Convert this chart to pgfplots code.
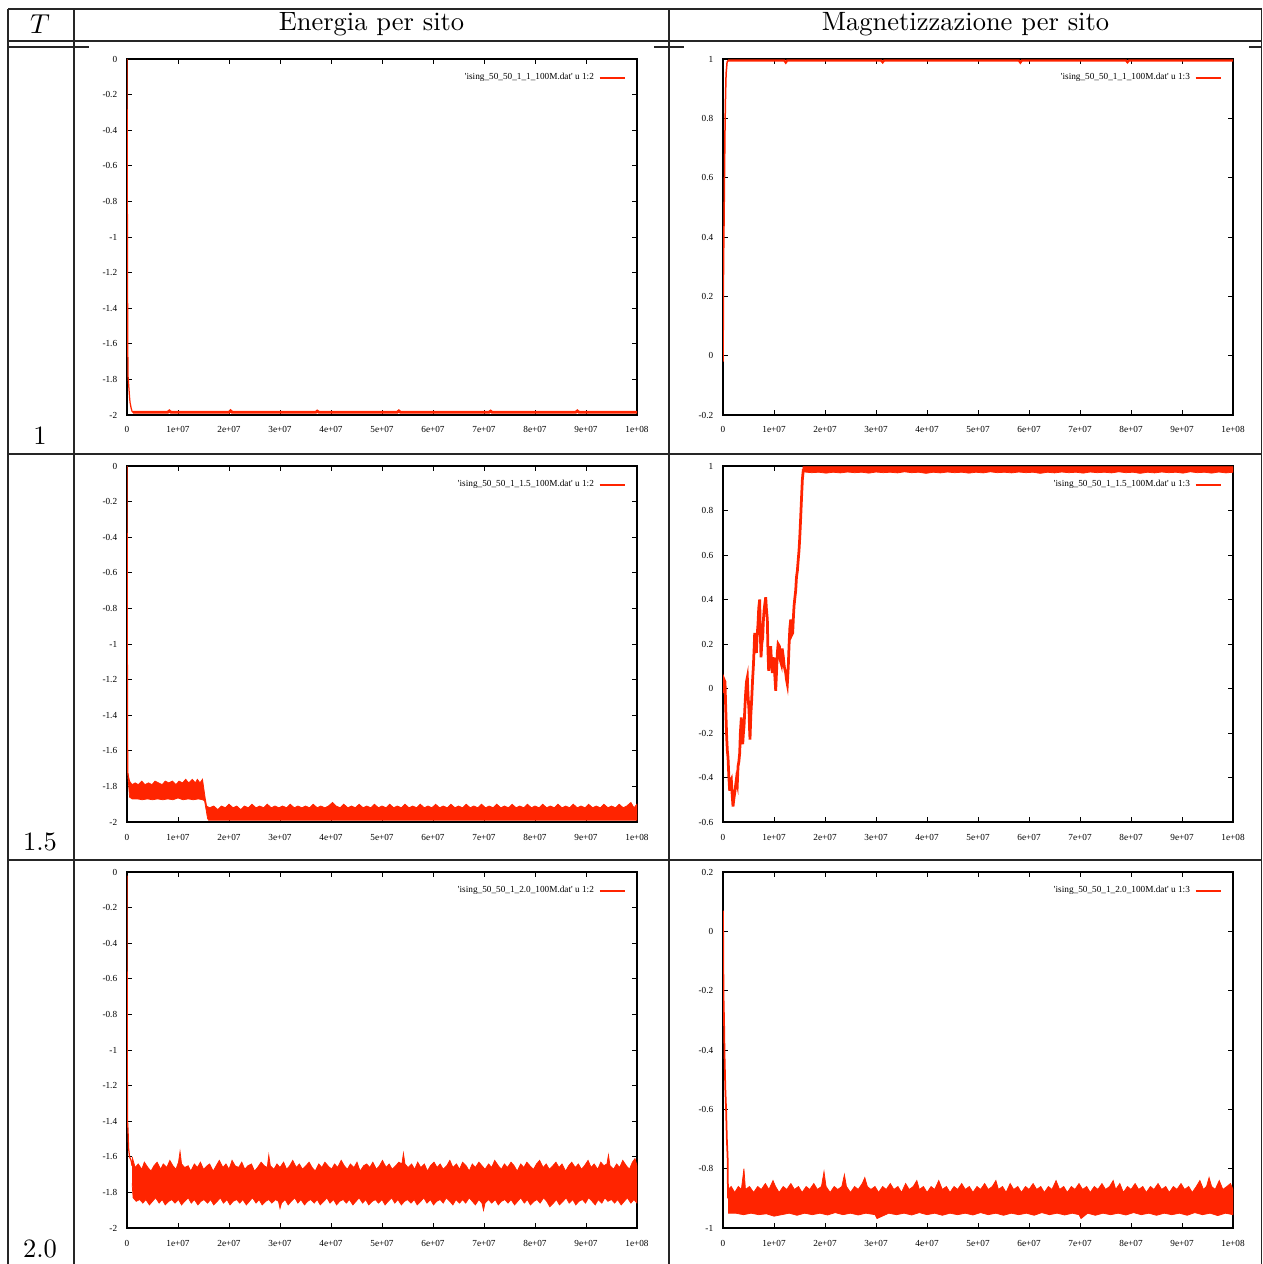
\documentclass[border=0pt]{standalone}
\usepackage{pgfplots}
\pgfplotsset{compat=1.18}
\usepackage{fontspec}
\newfontfamily\gpfont{Liberation Serif}
\definecolor{gpred}{RGB}{255,36,0}
\newcommand{\gpsize}{\gpfont\fontsize{3.7}{4.2}\selectfont}
\pgfplotsset{
 gp/.style={
  scale only axis, width=204pt, height=142.4pt, anchor=south west,
  xmin=0, xmax=100, xtick={0,10,...,100},
  xticklabels={0,1e+07,2e+07,3e+07,4e+07,5e+07,6e+07,7e+07,8e+07,9e+07,1e+08},
  axis line style={line width=0.6pt, black},
  every tick/.style={black, line width=0.35pt},
  major tick length=2pt, tick align=inside,
  tick label style={font=\gpsize},
  xticklabel style={yshift=-1.2pt},
  yticklabel style={xshift=-0.4pt},
  legend style={draw=none, fill=none, at={(1,1)}, anchor=north east,
    xshift=-4.5pt, yshift=-3.4pt, font=\gpsize, inner sep=0pt,
    /tikz/every even column/.append style={column sep=1.5pt}},
  legend plot pos=right, legend cell align=right,
 },
 gpleg/.style={legend image code/.code={\draw[color=gpred,line width=0.55pt] (0pt,0pt) -- (10pt,0pt);}},
}
\begin{document}
\begin{tikzpicture}
\begin{scope}[x=0.4pt,y=-0.4pt]
\path[use as bounding box] (0,0) rectangle (1262,1264);
\begin{scope}[line width=0.5pt, black!85]
\draw (8,9) -- (1262,9);
\draw (8,41) -- (1262,41);
\draw (8,47) -- (89,47);
\draw (654,47) -- (684,47);
\draw (1249,47) -- (1262,47);
\draw (8,454) -- (1262,454);
\draw (8,860) -- (1262,860);
\draw (8,9) -- (8,1264);
\draw (74,9) -- (74,1264);
\draw (669,9) -- (669,1264);
\draw (1261.5,9) -- (1261.5,1264);
\end{scope}
\node[font=\fontsize{10.6}{12}\selectfont] at (40,24) {$T$};
\node[font=\fontsize{10.6}{12}\selectfont] at (371.5,24) {Energia per sito};
\node[font=\fontsize{10.6}{12}\selectfont] at (965.5,24) {Magnetizzazione per sito};
\node[font=\fontsize{10.6}{12}\selectfont] at (40,436) {1};
\node[font=\fontsize{10.6}{12}\selectfont] at (40,842) {1.5};
\node[font=\fontsize{10.6}{12}\selectfont] at (40,1249) {2.0};
\end{scope}

% ---------- T = 1, energy ----------
\begin{axis}[gp, at={(50.8pt,-166pt)}, ymin=-2, ymax=0,
  ytick={-2,-1.8,...,0.01}, yticklabels={-2,-1.8,-1.6,-1.4,-1.2,-1,-0.8,-0.6,-0.4,-0.2,0}]
\addplot[gpred, line width=0.5pt, gpleg] coordinates {(0,0) (0.05,-0.6) (0.1,-1.2) (0.15,-1.6) (0.2,-1.78) (0.3,-1.82) (0.4,-1.86) (0.5,-1.9) (0.6,-1.93) (0.8,-1.96) (1.0,-1.98) (1.2,-1.985)};
\addlegendentry{\textquotesingle ising\_50\_50\_1\_1\_100M.dat\textquotesingle{} u 1:2}
\addplot[gpred, line width=1.1pt, forget plot] coordinates {(1.2,-1.985) (8,-1.984) (8.3,-1.977) (8.6,-1.984) (20,-1.984) (20.3,-1.976) (20.6,-1.984) (37,-1.985) (37.3,-1.978) (37.6,-1.984) (53,-1.984) (53.3,-1.977) (53.6,-1.984) (71,-1.984) (71.3,-1.978) (71.6,-1.985) (88,-1.984) (88.3,-1.977) (88.6,-1.984) (100,-1.984)};
\end{axis}

% ---------- T = 1, magnetization ----------
\begin{axis}[gp, at={(289.2pt,-166pt)}, ymin=-0.2, ymax=1,
  ytick={-0.2,0,...,1.01}, yticklabels={-0.2,0,0.2,0.4,0.6,0.8,1}]
\addplot[gpred, line width=0.6pt, gpleg] coordinates {(0,-0.02) (0.05,0.1) (0.1,0.3) (0.2,0.45) (0.3,0.62) (0.4,0.78) (0.5,0.88) (0.6,0.95) (0.8,0.99) (1,0.995)};
\addlegendentry{\textquotesingle ising\_50\_50\_1\_1\_100M.dat\textquotesingle{} u 1:3}
\addplot[gpred, line width=0.9pt, forget plot] coordinates {(1,0.995) (12,0.995) (12.3,0.988) (12.6,0.995) (31,0.995) (31.3,0.989) (31.6,0.995) (58,0.995) (58.3,0.988) (58.6,0.995) (79,0.995) (79.3,0.989) (79.6,0.995) (100,0.995)};
\end{axis}

% ---------- T = 1.5, energy ----------
\begin{axis}[gp, at={(50.8pt,-328.8pt)}, ymin=-2, ymax=0,
  ytick={-2,-1.8,...,0.01}, yticklabels={-2,-1.8,-1.6,-1.4,-1.2,-1,-0.8,-0.6,-0.4,-0.2,0}]
\addplot[gpred, line width=0.5pt, gpleg] coordinates {(0,0) (0.05,-0.8) (0.1,-1.5) (0.15,-1.72) (0.3,-1.76)};
\addlegendentry{\textquotesingle ising\_50\_50\_1\_1.5\_100M.dat\textquotesingle{} u 1:2}
\addplot[fill=gpred, draw=gpred, line width=0.3pt, forget plot] coordinates {
(0.2,-1.73)(0.5,-1.77)(1,-1.79)(1.6,-1.78)(2.2,-1.79)(2.9,-1.77)(3.5,-1.79)(4.2,-1.78)(4.9,-1.79)(5.5,-1.77)(6.2,-1.78)(6.9,-1.79)(7.5,-1.77)(8.2,-1.78)(8.9,-1.77)(9.6,-1.79)(10.2,-1.77)(10.9,-1.78)(11.5,-1.76)(12.1,-1.78)(12.8,-1.76)(13.4,-1.78)(13.8,-1.76)(14.3,-1.78)(14.8,-1.76)(15.0,-1.80)(15.3,-1.86)(15.6,-1.91)
(16.2,-1.92)(17,-1.91)(17.8,-1.93)(18.5,-1.91)(19.3,-1.92)(20,-1.90)(20.8,-1.92)(21.5,-1.91)(22.3,-1.93)(23,-1.91)(23.8,-1.92)(24.5,-1.90)(25.3,-1.92)(26,-1.91)(26.8,-1.92)(27.5,-1.90)(28.3,-1.92)(29,-1.91)(29.8,-1.92)(30.5,-1.91)(31.3,-1.92)(32,-1.90)(32.8,-1.92)(33.5,-1.91)(34.3,-1.92)(35,-1.91)(35.8,-1.92)(36.5,-1.90)(37.3,-1.92)(38,-1.91)(38.8,-1.92)(39.5,-1.91)(40.3,-1.89)(41,-1.91)(41.8,-1.92)(42.5,-1.90)(43.3,-1.92)(44,-1.91)(44.8,-1.92)(45.5,-1.90)(46.3,-1.92)(47,-1.91)(47.8,-1.92)(48.5,-1.90)(49.3,-1.92)(50,-1.91)(50.8,-1.92)(51.5,-1.90)(52.3,-1.92)(53,-1.91)(53.8,-1.92)(54.5,-1.90)(55.3,-1.92)(56,-1.91)(56.8,-1.92)(57.5,-1.90)(58.3,-1.92)(59,-1.91)(59.8,-1.92)(60.5,-1.90)(61.3,-1.92)(62,-1.91)(62.8,-1.92)(63.5,-1.90)(64.3,-1.92)(65,-1.91)(65.8,-1.92)(66.5,-1.90)(67.3,-1.92)(68,-1.91)(68.8,-1.92)(69.5,-1.90)(70.3,-1.92)(71,-1.91)(71.8,-1.92)(72.5,-1.90)(73.3,-1.92)(74,-1.91)(74.8,-1.92)(75.5,-1.90)(76.3,-1.92)(77,-1.91)(77.8,-1.92)(78.5,-1.90)(79.3,-1.92)(80,-1.91)(80.8,-1.92)(81.5,-1.90)(82.3,-1.92)(83,-1.91)(83.8,-1.92)(84.5,-1.90)(85.3,-1.92)(86,-1.91)(86.8,-1.92)(87.5,-1.90)(88.3,-1.92)(89,-1.91)(89.8,-1.92)(90.5,-1.90)(91.3,-1.92)(92,-1.91)(92.8,-1.92)(93.5,-1.90)(94.3,-1.92)(95,-1.91)(95.8,-1.92)(96.5,-1.90)(97.3,-1.92)(98,-1.91)(98.8,-1.89)(99.4,-1.92)(100,-1.90)
(100,-1.99)(16,-1.99)(15.8,-1.98)(15.5,-1.93)(15.2,-1.88)
(14.8,-1.875)(14,-1.87)(13,-1.875)(12,-1.87)(11,-1.875)(10,-1.865)(9,-1.875)(8,-1.87)(7,-1.875)(6,-1.87)(5,-1.875)(4,-1.87)(3,-1.875)(2,-1.87)(1,-1.87)(0.5,-1.86)(0.2,-1.75)};
\end{axis}

% ---------- T = 1.5, magnetization ----------
\begin{axis}[gp, at={(289.2pt,-328.8pt)}, ymin=-0.6, ymax=1,
  ytick={-0.6,-0.4,...,1.01}, yticklabels={-0.6,-0.4,-0.2,0,0.2,0.4,0.6,0.8,1}]
\addplot[gpred, line width=1.1pt, gpleg] coordinates {
(0,-0.02)(0.2,0.04)(0.39,0.03)(0.52,-0.08)(0.62,-0.15)(0.72,-0.22)(0.85,-0.28)(0.98,-0.31)(1.15,-0.40)(1.31,-0.46)(1.45,-0.42)(1.63,-0.41)(1.8,-0.48)(1.96,-0.53)(2.1,-0.50)(2.29,-0.47)(2.45,-0.44)(2.61,-0.41)(2.8,-0.43)(2.94,-0.35)(3.1,-0.33)(3.27,-0.29)(3.4,-0.20)(3.59,-0.13)(3.7,-0.22)(3.86,-0.25)(4.0,-0.20)(4.12,-0.17)(4.3,-0.08)(4.44,-0.02)(4.6,0.03)(4.77,0.05)(4.9,-0.03)(5.10,-0.10)(5.2,-0.18)(5.29,-0.23)(5.45,-0.12)(5.62,-0.05)(5.8,0.04)(5.95,0.10)(6.1,0.18)(6.21,0.25)(6.35,0.20)(6.54,0.16)(6.7,0.24)(6.86,0.29)(7.0,0.36)(7.19,0.40)(7.3,0.26)(7.45,0.14)(7.6,0.20)(7.78,0.23)(7.9,0.30)(8.04,0.35)(8.2,0.38)(8.37,0.41)(8.5,0.36)(8.69,0.31)(8.8,0.18)(8.95,0.08)(9.1,0.12)(9.35,0.19)(9.5,0.12)(9.67,0.07)(9.8,0.10)(10.0,0.14)(10.15,0.06)(10.33,-0.01)(10.5,0.08)(10.65,0.16)(10.8,0.20)(11.05,0.19)(11.2,0.13)(11.44,0.11)(11.6,0.18)(11.83,0.14)(12.0,0.10)(12.29,0.07)(12.45,0.04)(12.61,0.02)(12.8,0.10)(12.94,0.19)(13.1,0.27)(13.27,0.31)(13.45,0.24)(13.66,0.25)(13.8,0.32)(13.92,0.37)(14.1,0.41)(14.25,0.44)(14.4,0.50)(14.58,0.53)(14.75,0.58)(14.9,0.62)(15.05,0.68)(15.23,0.77)(15.4,0.86)(15.56,0.94)(15.75,0.985)};
\addlegendentry{\textquotesingle ising\_50\_50\_1\_1.5\_100M.dat\textquotesingle{} u 1:3}
\addplot[fill=gpred, draw=gpred, line width=0.3pt, forget plot] coordinates {
(15.6,0.975)(15.7,0.997)(100,0.997)
(100,0.972)(98.6,0.969)(97.2,0.973)(95.8,0.968)(94.4,0.972)(93,0.970)(91.6,0.974)(90.2,0.968)(88.8,0.972)(87.4,0.970)(86,0.973)(84.6,0.969)(83.2,0.972)(81.8,0.967)(80.4,0.972)(79,0.970)(77.6,0.974)(76.2,0.969)(74.8,0.972)(73.4,0.970)(72,0.973)(70.6,0.968)(69.2,0.972)(67.8,0.970)(66.4,0.973)(65,0.969)(63.6,0.972)(62.2,0.967)(60.8,0.972)(59.4,0.970)(58,0.973)(56.6,0.969)(55.2,0.972)(53.8,0.970)(52.4,0.974)(51,0.969)(49.6,0.972)(48.2,0.968)(46.8,0.972)(45.4,0.970)(44,0.973)(42.6,0.969)(41.2,0.972)(39.8,0.967)(38.4,0.972)(37,0.970)(35.6,0.974)(34.2,0.969)(32.8,0.972)(31.4,0.970)(30,0.973)(28.6,0.968)(27.2,0.972)(25.8,0.970)(24.4,0.973)(23,0.969)(21.6,0.972)(20.2,0.968)(18.8,0.972)(17.4,0.970)(16,0.973)(15.7,0.975)};
\end{axis}

% ---------- T = 2.0, energy ----------
\begin{axis}[gp, at={(50.8pt,-491.2pt)}, ymin=-2, ymax=0,
  ytick={-2,-1.8,...,0.01}, yticklabels={-2,-1.8,-1.6,-1.4,-1.2,-1,-0.8,-0.6,-0.4,-0.2,0}]
\addplot[gpred, line width=0.5pt, gpleg] coordinates {(0,-0.02) (0.02,-0.5) (0.05,-1.0) (0.1,-1.4) (0.2,-1.45) (0.3,-1.55) (0.5,-1.6) (0.8,-1.62) (1,-1.65)};
\addlegendentry{\textquotesingle ising\_50\_50\_1\_2.0\_100M.dat\textquotesingle{} u 1:2}
\addplot[fill=gpred, draw=gpred, line width=0.3pt, forget plot] coordinates {
(1,-1.60)(1.6,-1.66)(2.2,-1.64)(2.9,-1.67)(3.4,-1.63)(4.1,-1.66)(4.7,-1.68)(5.3,-1.65)(5.9,-1.63)(6.6,-1.67)(7.1,-1.64)(7.8,-1.66)(8.4,-1.62)(9.0,-1.65)(9.6,-1.67)(10.1,-1.63)(10.4,-1.57)(10.7,-1.64)(11.3,-1.66)(12.0,-1.65)(12.5,-1.68)(13.2,-1.64)(13.8,-1.66)(14.4,-1.63)(15.0,-1.67)(15.7,-1.65)(16.2,-1.64)(16.9,-1.68)(17.5,-1.65)(18.1,-1.62)(18.8,-1.66)(19.4,-1.64)(20.0,-1.67)(20.6,-1.62)(21.2,-1.65)(21.9,-1.66)(22.5,-1.63)(23.1,-1.67)(23.7,-1.65)(24.4,-1.64)(25.0,-1.68)(25.6,-1.66)(26.3,-1.63)(26.9,-1.65)(27.5,-1.66)(27.8,-1.59)(28.1,-1.65)(28.8,-1.67)(29.4,-1.64)(30.0,-1.66)(30.7,-1.63)(31.3,-1.67)(31.9,-1.65)(32.5,-1.62)(33.2,-1.66)(33.8,-1.64)(34.4,-1.67)(35.1,-1.65)(35.7,-1.63)(36.3,-1.66)(36.9,-1.68)(37.6,-1.64)(38.2,-1.66)(38.8,-1.63)(39.4,-1.65)(40.1,-1.67)(40.7,-1.64)(41.3,-1.66)(42.0,-1.62)(42.6,-1.65)(43.2,-1.67)(43.8,-1.64)(44.5,-1.66)(45.1,-1.63)(45.7,-1.68)(46.4,-1.65)(47.0,-1.64)(47.6,-1.66)(48.2,-1.63)(48.9,-1.67)(49.5,-1.65)(50.1,-1.62)(50.8,-1.66)(51.4,-1.64)(52.0,-1.67)(52.7,-1.65)(53.3,-1.63)(53.9,-1.64)(54.2,-1.58)(54.5,-1.64)(55.1,-1.66)(55.8,-1.64)(56.4,-1.67)(57.0,-1.63)(57.6,-1.66)(58.3,-1.64)(58.9,-1.68)(59.5,-1.65)(60.2,-1.63)(60.8,-1.66)(61.4,-1.64)(62.0,-1.67)(62.7,-1.65)(63.3,-1.62)(63.9,-1.66)(64.6,-1.64)(65.2,-1.67)(65.8,-1.63)(66.5,-1.65)(67.1,-1.68)(67.7,-1.64)(68.3,-1.66)(69.0,-1.63)(69.6,-1.65)(70.2,-1.67)(70.9,-1.64)(71.5,-1.66)(72.1,-1.62)(72.8,-1.65)(73.4,-1.67)(74.0,-1.64)(74.6,-1.66)(75.3,-1.63)(75.9,-1.65)(76.5,-1.68)(77.2,-1.64)(77.8,-1.66)(78.4,-1.63)(79.0,-1.65)(79.7,-1.67)(80.3,-1.64)(80.9,-1.62)(81.6,-1.66)(82.2,-1.64)(82.8,-1.67)(83.5,-1.65)(84.1,-1.63)(84.7,-1.66)(85.3,-1.64)(86.0,-1.68)(86.6,-1.65)(87.2,-1.63)(87.9,-1.66)(88.5,-1.64)(89.1,-1.67)(89.7,-1.65)(90.4,-1.62)(91.0,-1.66)(91.6,-1.64)(92.3,-1.67)(92.9,-1.63)(93.5,-1.65)(94.1,-1.64)(94.4,-1.59)(94.7,-1.65)(95.4,-1.67)(96.0,-1.64)(96.6,-1.66)(97.2,-1.62)(97.9,-1.65)(98.5,-1.67)(99.1,-1.63)(99.6,-1.61)(100,-1.65)
(100,-1.86)(99.4,-1.84)(98.8,-1.86)(98.1,-1.83)(97.5,-1.85)(96.9,-1.87)(96.2,-1.84)(95.6,-1.86)(95.0,-1.84)(94.3,-1.85)(93.7,-1.83)(93.1,-1.86)(92.4,-1.84)(91.8,-1.87)(91.2,-1.85)(90.5,-1.83)(89.9,-1.86)(89.3,-1.84)(88.6,-1.85)(88.0,-1.87)(87.4,-1.84)(86.7,-1.86)(86.1,-1.83)(85.5,-1.85)(84.8,-1.87)(84.2,-1.84)(83.6,-1.86)(82.9,-1.88)(82.3,-1.85)(81.7,-1.83)(81.0,-1.86)(80.4,-1.84)(79.8,-1.85)(79.1,-1.87)(78.5,-1.84)(77.9,-1.86)(77.2,-1.83)(76.6,-1.85)(76.0,-1.87)(75.3,-1.84)(74.7,-1.86)(74.1,-1.84)(73.4,-1.85)(72.8,-1.87)(72.2,-1.84)(71.5,-1.86)(70.9,-1.84)(70.2,-1.86)(69.9,-1.90)(69.6,-1.86)(69.0,-1.84)(68.3,-1.87)(67.7,-1.85)(67.1,-1.83)(66.4,-1.86)(65.8,-1.84)(65.2,-1.86)(64.5,-1.84)(63.9,-1.87)(63.3,-1.85)(62.6,-1.83)(62.0,-1.86)(61.4,-1.84)(60.7,-1.85)(60.1,-1.87)(59.5,-1.84)(58.8,-1.86)(58.2,-1.83)(57.6,-1.85)(56.9,-1.87)(56.3,-1.84)(55.7,-1.86)(55.0,-1.84)(54.4,-1.85)(53.8,-1.87)(53.1,-1.84)(52.5,-1.86)(51.9,-1.83)(51.2,-1.85)(50.6,-1.87)(50.0,-1.84)(49.3,-1.86)(48.7,-1.84)(48.1,-1.85)(47.4,-1.87)(46.8,-1.84)(46.2,-1.86)(45.5,-1.83)(44.9,-1.85)(44.3,-1.87)(43.6,-1.84)(43.0,-1.86)(42.4,-1.84)(41.7,-1.85)(41.1,-1.87)(40.5,-1.84)(39.8,-1.86)(39.2,-1.83)(38.6,-1.85)(37.9,-1.87)(37.3,-1.84)(36.7,-1.86)(36.0,-1.84)(35.4,-1.85)(34.8,-1.87)(34.1,-1.84)(33.5,-1.86)(32.9,-1.83)(32.2,-1.85)(31.6,-1.87)(31.0,-1.84)(30.3,-1.86)(30.0,-1.89)(29.7,-1.85)(29.1,-1.84)(28.4,-1.86)(27.8,-1.84)(27.2,-1.85)(26.5,-1.87)(25.9,-1.84)(25.3,-1.86)(24.6,-1.83)(24.0,-1.85)(23.4,-1.87)(22.7,-1.84)(22.1,-1.86)(21.5,-1.84)(20.8,-1.85)(20.2,-1.87)(19.6,-1.84)(18.9,-1.86)(18.3,-1.83)(17.7,-1.85)(17.0,-1.87)(16.4,-1.84)(15.8,-1.86)(15.1,-1.84)(14.5,-1.85)(13.9,-1.87)(13.2,-1.84)(12.6,-1.86)(12.0,-1.83)(11.3,-1.85)(10.7,-1.87)(10.1,-1.84)(9.4,-1.86)(8.8,-1.84)(8.2,-1.85)(7.5,-1.87)(6.9,-1.84)(6.3,-1.86)(5.6,-1.83)(5.0,-1.85)(4.4,-1.87)(3.7,-1.84)(3.1,-1.86)(2.5,-1.84)(1.8,-1.85)(1.2,-1.83)(1,-1.75)};
\end{axis}

% ---------- T = 2.0, magnetization ----------
\begin{axis}[gp, at={(289.2pt,-491.2pt)}, ymin=-1, ymax=0.2,
  ytick={-1,-0.8,...,0.21}, yticklabels={-1,-0.8,-0.6,-0.4,-0.2,0,0.2}]
\addplot[gpred, line width=0.7pt, gpleg] coordinates {(0,0.07) (0.05,-0.1) (0.1,-0.22) (0.2,-0.3) (0.3,-0.42) (0.45,-0.53) (0.6,-0.6) (0.75,-0.7) (0.9,-0.76) (0.95,-0.85) (1.0,-0.9)};
\addlegendentry{\textquotesingle ising\_50\_50\_1\_2.0\_100M.dat\textquotesingle{} u 1:3}
\addplot[fill=gpred, draw=gpred, line width=0.3pt, forget plot] coordinates {
(1.0,-0.87)(1.6,-0.86)(2.3,-0.88)(3,-0.86)(3.6,-0.87)(4.1,-0.80)(4.4,-0.87)(5.2,-0.86)(6,-0.88)(6.8,-0.86)(7.5,-0.87)(8.3,-0.85)(9,-0.87)(9.8,-0.84)(10.3,-0.86)(11,-0.88)(11.8,-0.86)(12.5,-0.87)(13.3,-0.85)(14,-0.87)(14.8,-0.86)(15.5,-0.88)(16.3,-0.86)(17,-0.87)(17.8,-0.85)(18.5,-0.87)(19.3,-0.86)(19.8,-0.81)(20.2,-0.86)(21,-0.88)(21.8,-0.86)(22.5,-0.87)(23.3,-0.86)(23.8,-0.82)(24.2,-0.86)(25,-0.88)(25.8,-0.86)(26.5,-0.87)(27.3,-0.85)(27.8,-0.83)(28.3,-0.86)(29,-0.87)(29.8,-0.86)(30.5,-0.88)(31.3,-0.86)(32,-0.87)(32.8,-0.85)(33.5,-0.87)(34.3,-0.86)(35,-0.88)(35.8,-0.85)(36.5,-0.87)(37.3,-0.86)(38,-0.84)(38.5,-0.87)(39.3,-0.86)(40,-0.88)(40.8,-0.86)(41.5,-0.87)(42.3,-0.84)(43,-0.87)(43.8,-0.86)(44.5,-0.88)(45.3,-0.86)(46,-0.87)(46.8,-0.85)(47.5,-0.87)(48.3,-0.86)(49,-0.88)(49.8,-0.86)(50.5,-0.87)(51.3,-0.85)(52,-0.87)(52.8,-0.86)(53.5,-0.84)(54,-0.87)(54.8,-0.86)(55.5,-0.88)(56.3,-0.85)(57,-0.87)(57.8,-0.86)(58.5,-0.88)(59.3,-0.86)(60,-0.87)(60.8,-0.85)(61.5,-0.87)(62.3,-0.86)(63,-0.88)(63.8,-0.86)(64.5,-0.87)(65.3,-0.84)(66,-0.87)(66.8,-0.86)(67.5,-0.88)(68.3,-0.86)(69,-0.87)(69.8,-0.85)(70.5,-0.87)(71.3,-0.86)(72,-0.88)(72.8,-0.86)(73.5,-0.87)(74.3,-0.85)(75,-0.87)(75.8,-0.86)(76.5,-0.84)(77,-0.87)(77.8,-0.85)(78.5,-0.88)(79.3,-0.86)(80,-0.87)(80.8,-0.85)(81.5,-0.87)(82.3,-0.86)(83,-0.88)(83.8,-0.86)(84.5,-0.87)(85.3,-0.85)(86,-0.87)(86.8,-0.86)(87.5,-0.88)(88.3,-0.86)(89,-0.87)(89.8,-0.85)(90.5,-0.87)(91.3,-0.86)(92,-0.88)(92.8,-0.86)(93.5,-0.84)(94.2,-0.87)(94.8,-0.86)(95.3,-0.83)(95.8,-0.86)(96.5,-0.87)(97.3,-0.84)(98,-0.87)(98.8,-0.86)(99.5,-0.85)(100,-0.87)
(100,-0.955)(98.5,-0.95)(97,-0.958)(95.5,-0.95)(94,-0.955)(92.5,-0.948)(91,-0.957)(89.5,-0.95)(88,-0.955)(86.5,-0.95)(85,-0.957)(83.5,-0.95)(82,-0.955)(80.5,-0.948)(79,-0.956)(77.5,-0.95)(76,-0.955)(74.5,-0.95)(73,-0.957)(71.5,-0.95)(70.2,-0.968)(69.8,-0.955)(68.5,-0.95)(67,-0.956)(65.5,-0.95)(64,-0.955)(62.5,-0.948)(61,-0.957)(59.5,-0.95)(58,-0.955)(56.5,-0.95)(55,-0.957)(53.5,-0.95)(52,-0.955)(50.5,-0.948)(49,-0.956)(47.5,-0.95)(46,-0.955)(44.5,-0.95)(43,-0.957)(41.5,-0.95)(40,-0.955)(38.5,-0.948)(37,-0.956)(35.5,-0.95)(34,-0.955)(32.5,-0.95)(30.2,-0.968)(29.8,-0.955)(28,-0.95)(26.5,-0.956)(25,-0.95)(23.5,-0.955)(22,-0.948)(20.5,-0.956)(19,-0.95)(17.5,-0.955)(16,-0.95)(14.5,-0.957)(13,-0.95)(11.5,-0.955)(10,-0.96)(8.5,-0.952)(7,-0.955)(5.5,-0.95)(4,-0.955)(2.5,-0.95)(1,-0.95)};
\end{axis}
\end{tikzpicture}
\end{document}
